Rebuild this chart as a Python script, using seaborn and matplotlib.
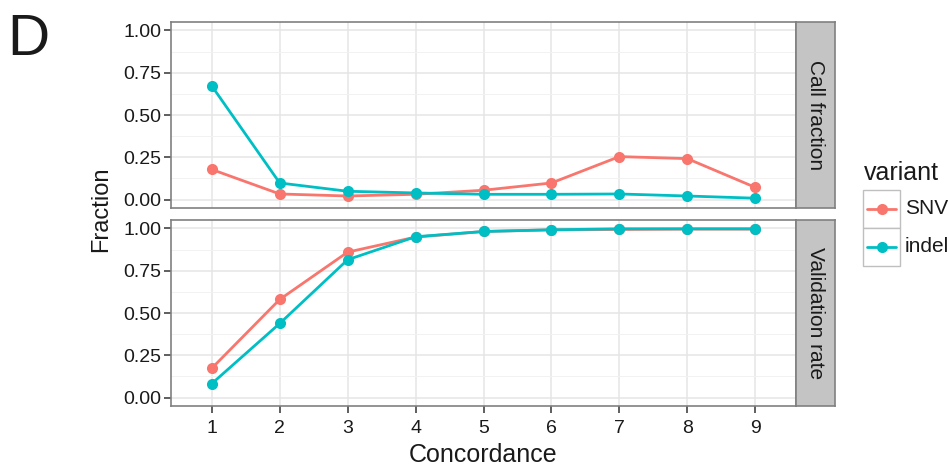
import numpy as np
import pandas as pd
import matplotlib
matplotlib.use("Agg")
import matplotlib.pyplot as plt
import seaborn as sns
from matplotlib.patches import Rectangle
from matplotlib.lines import Line2D

# ---- data ----
concordance = [1, 2, 3, 4, 5, 6, 7, 8, 9]
snv_call = [0.178, 0.033, 0.021, 0.031, 0.055, 0.098, 0.254, 0.242, 0.072]
indel_call = [0.672, 0.098, 0.049, 0.039, 0.031, 0.031, 0.033, 0.021, 0.008]
snv_valid = [0.173, 0.580, 0.860, 0.949, 0.982, 0.992, 0.994, 0.996, 0.996]
indel_valid = [0.082, 0.438, 0.815, 0.951, 0.982, 0.992, 0.998, 0.998, 0.998]
variants = ["SNV", "indel"]
panels = ["Call fraction", "Validation rate"]
colors = ["#F8766D", "#00BFC4"]
yticks = [0.0, 0.25, 0.5, 0.75, 1.0]
ytick_labels = ["0.00", "0.25", "0.50", "0.75", "1.00"]

rows = []
for panel, s_vals, i_vals in [(panels[0], snv_call, indel_call),
                              (panels[1], snv_valid, indel_valid)]:
    for c, s, i in zip(concordance, s_vals, i_vals):
        rows.append((panel, "SNV", c, s))
        rows.append((panel, "indel", c, i))
df = pd.DataFrame(rows, columns=["panel", "variant", "concordance", "fraction"])

sns.set_theme(style="white")
plt.rcParams['font.family'] = ['Liberation Sans', 'DejaVu Sans']

W, H = 949, 468
fig = plt.figure(figsize=(W / 100, H / 100), dpi=100)


def rect(l, t, r, b):
    return [l / W, 1 - b / H, (r - l) / W, (b - t) / H]


panel_boxes = [(171, 22, 796, 208), (171, 220, 796, 406)]
border_col = "#808080"
text_col = "#1a1a1a"
palette = dict(zip(variants, colors))

for k, panel in enumerate(panels):
    l, t, r, b = panel_boxes[k]
    ax = fig.add_axes(rect(l, t, r, b))
    sub = df[df.panel == panel]
    sns.lineplot(data=sub, x="concordance", y="fraction", hue="variant",
                 hue_order=variants, palette=palette, marker="o",
                 markersize=8, markeredgewidth=0, linewidth=2,
                 errorbar=None, legend=False, ax=ax)
    ax.set_xlim(0.4, 9.6)
    ax.set_ylim(-0.05, 1.05)
    ax.set_xticks(concordance)
    ax.set_yticks(yticks)
    ax.set_yticks([0.125, 0.375, 0.625, 0.875], minor=True)
    ax.set_yticklabels(ytick_labels, fontsize=14, color=text_col)
    ax.set_axisbelow(True)
    ax.grid(which="major", color="#E5E5E5", linewidth=1.1)
    ax.grid(which="minor", axis="y", color="#F2F2F2", linewidth=0.7)
    ax.tick_params(which="minor", length=0)
    ax.tick_params(axis="y", which="major", length=5, width=1.1,
                   color="#333333", direction="out", left=True, pad=2)
    if k == 0:
        ax.tick_params(axis="x", which="major", length=0, labelbottom=False)
    else:
        ax.tick_params(axis="x", which="major", length=5, width=1.1,
                       color="#333333", direction="out", bottom=True, pad=5,
                       labelsize=14, labelcolor=text_col)
        ax.set_xticklabels([str(c) for c in concordance])
    ax.set_xlabel("")
    ax.set_ylabel("")
    for sp in ax.spines.values():
        sp.set_color(border_col)
        sp.set_linewidth(1.2)
    # strip
    sax = fig.add_axes(rect(796, t, 835, b))
    sax.set_facecolor("#C4C4C4")
    sax.set_xticks([])
    sax.set_yticks([])
    for sp in sax.spines.values():
        sp.set_color(border_col)
        sp.set_linewidth(1.2)
    sax.text(0.5, 0.5, panel, rotation=-90, ha="center", va="center",
             fontsize=15, color=text_col, transform=sax.transAxes)

fig.text(483 / W, 1 - 455 / H, "Concordance", ha="center", va="center",
         fontsize=18, color=text_col)
fig.text(101 / W, 1 - 209 / H, "Fraction", rotation=90, ha="center",
         va="center", fontsize=17, color=text_col)
fig.text(7 / W, 1 - 55 / H, "D", ha="left", va="baseline", fontsize=42,
         color=text_col)

# legend
fig.text(864 / W, 1 - 173 / H, "variant", ha="left", va="center", fontsize=18,
         color=text_col)
for j, (v, c) in enumerate(zip(variants, colors)):
    top = 190 + j * 38
    box = Rectangle((863 / W, 1 - (top + 38) / H), 37 / W, 38 / H,
                    transform=fig.transFigure, facecolor="white",
                    edgecolor="#BFBFBF", linewidth=1)
    fig.add_artist(box)
    yc = 1 - (top + 19) / H
    fig.add_artist(Line2D([867 / W, 896 / W], [yc, yc], color=c, linewidth=2,
                          transform=fig.transFigure))
    fig.add_artist(Line2D([881.5 / W], [yc], color=c, marker="o",
                          markersize=8, markeredgewidth=0,
                          transform=fig.transFigure))
    fig.text(905 / W, yc, v, ha="left", va="center", fontsize=15,
             color=text_col)

fig.savefig("out.png", dpi=100)
